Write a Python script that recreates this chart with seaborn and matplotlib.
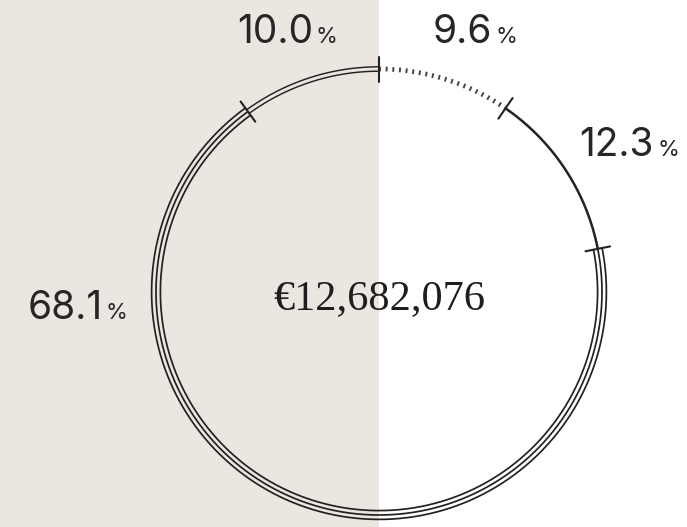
import numpy as np
import pandas as pd
import matplotlib
matplotlib.use("Agg")
import matplotlib.pyplot as plt
import seaborn as sns

# Shares of the total, clockwise from 12 o'clock
shares = [9.6, 12.3, 68.1, 10.0]
share_labels = ["9.6", "12.3", "68.1", "10.0"]
line_kinds = ["dotted", "single", "triple", "double"]
total_label = "€12,682,076"

# Label anchors (right edge of the number, baseline), in pixel space
label_anchor_x = [492, 654, 103, 313]
label_anchor_y = [43, 156, 319, 43]

W, H = 687, 527
CX, CY, R = 379, 292, 223
INK = "#222222"
SAND = "#ebe6e0"

sns.set_theme(style="white")
plt.rcParams["lines.scale_dashes"] = False

fig = plt.figure(figsize=(W / 100, H / 100), dpi=100)
ax = fig.add_axes([0, 0, 1, 1])
ax.set_xlim(0, W)
ax.set_ylim(H, 0)
ax.axis("off")
ax.axvspan(0, CX, color=SAND, lw=0, zorder=0)


def arc(t0, t1, radius, **kw):
    t = np.linspace(np.radians(t0), np.radians(t1), 400)
    df = pd.DataFrame({"x": CX + radius * np.sin(t), "y": CY - radius * np.cos(t)})
    sns.lineplot(data=df, x="x", y="y", sort=False, estimator=None, ax=ax,
                 color=kw.pop("color", INK), **kw)


def tick(theta, half=12.5):
    t = np.radians(theta)
    rr = np.array([R - half, R + half])
    df = pd.DataFrame({"x": CX + rr * np.sin(t), "y": CY - rr * np.cos(t)})
    sns.lineplot(data=df, x="x", y="y", sort=False, estimator=None, ax=ax,
                 color=INK, lw=1.5, zorder=5)


bounds = np.concatenate([[0], np.cumsum(shares)]) / 100 * 360

for kind, a, b in zip(line_kinds, bounds[:-1], bounds[1:]):
    if kind == "dotted":
        arc(a, b, R, lw=3.4, color="#454545", linestyle=(0, (1.4, 3.4)))
    elif kind == "single":
        arc(a, b, R, lw=1.8)
    elif kind == "triple":
        for off in (-4.4, 0, 4.4):
            arc(a, b, R + off, lw=1.25)
    elif kind == "double":
        for off in (-2.2, 2.2):
            arc(a, b, R + off, lw=1.05)

for b in bounds[:-1]:
    tick(b)

for lab, x, y in zip(share_labels, label_anchor_x, label_anchor_y):
    ax.text(x, y, lab, ha="right", va="baseline", fontsize=28,
            family="Inter", color="#262626")
    ax.text(x + 3, y, "%", ha="left", va="baseline", fontsize=16,
            family="Inter", color="#262626")

ax.text(CX, 309, total_label, ha="center", va="baseline", fontsize=30.5,
        family="Liberation Serif", color="#1e1e1e")

fig.savefig("out.png", dpi=100)
